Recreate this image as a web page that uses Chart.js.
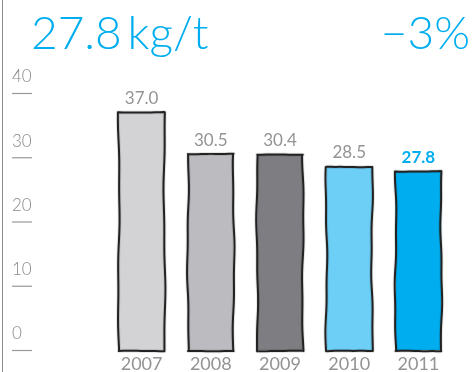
<!DOCTYPE html>
<html>
<head>
<meta charset="utf-8">
<script src="https://cdn.jsdelivr.net/npm/chart.js@4"></script>
<style>
  html, body { margin: 0; padding: 0; background: #fff; }
  #wrap { position: relative; width: 472px; height: 372px; }
  #edge { position: absolute; left: 2px; top: 0; width: 1px; height: 372px; background: #8c8c8c; }
  .big { position: absolute; top: 4px; font-family: Lato, sans-serif; font-weight: 300; font-size: 46px; color: #00aeef; line-height: 56px; }
  #head { left: 31px; }
  #delta { right: 2px; }
</style>
</head>
<body>
<div id="wrap">
  <div id="edge"></div>
  <div class="big" id="head">27.8&thinsp;kg/t</div>
  <div class="big" id="delta">&minus;3%</div>
  <canvas id="chart" width="472" height="372"></canvas>
</div>
<script>
const years = ['2007', '2008', '2009', '2010', '2011'];
const values = [37.0, 30.5, 30.4, 28.5, 27.8];
const yTicks = [0, 10, 20, 30, 40];
const barColors = ['#d3d3d5', '#bcbbc0', '#7e7d82', '#6dcff6', '#00aeef'];

const grey = '#939393';
const blue = '#00aeef';

// hand drawn outline + labels
const sketchPlugin = {
  id: 'sketch',
  afterDatasetsDraw(chart) {
    const ctx = chart.ctx;
    const meta = chart.getDatasetMeta(0);
    const y = chart.scales.y;
    const x = chart.scales.x;

    // y ticks: number above a short line
    ctx.save();
    ctx.font = '300 17px Lato, sans-serif';
    ctx.fillStyle = '#888';
    ctx.textAlign = 'left';
    ctx.textBaseline = 'middle';
    ctx.strokeStyle = '#999';
    ctx.lineWidth = 1.2;
    yTicks.forEach(t => {
      const py = y.getPixelForValue(t);
      ctx.fillText(String(t), 12, py - 16);
      ctx.beginPath();
      ctx.moveTo(12, py + 0.5);
      ctx.lineTo(32, py + 0.5);
      ctx.stroke();
    });
    ctx.restore();

    // x labels
    ctx.save();
    ctx.font = '18px Lato, sans-serif';
    ctx.fillStyle = grey;
    ctx.textAlign = 'center';
    ctx.textBaseline = 'middle';
    years.forEach((yr, i) => ctx.fillText(yr, x.getPixelForValue(i), chart.chartArea.bottom + 14));
    ctx.restore();

    meta.data.forEach((bar, i) => {
      const half = bar.width / 2;
      const l = bar.x - half, r = bar.x + half, t = bar.y, b = bar.base + 1;
      const wob = (k, s) => Math.sin(k * 0.13 + i * 1.7 + s) * 0.7 + Math.sin(k * 0.37 + s * 2) * 0.3;
      ctx.save();
      ctx.lineJoin = 'round';
      [['rgba(0,0,0,0.1)', 4], ['#222', 2]].forEach(([c, w]) => {
        ctx.strokeStyle = c;
        ctx.lineWidth = w;
        ctx.beginPath();
        ctx.moveTo(l, t);
        for (let k = 0; k <= 10; k++) ctx.lineTo(l + (r - l) * k / 10, t + wob(k * 3, 0) * 0.3);
        for (let k = 0; k <= 30; k++) ctx.lineTo(r + wob(k * 2, 2), t + (b - t) * k / 30);
        for (let k = 10; k >= 0; k--) ctx.lineTo(l + (r - l) * k / 10, b + wob(k * 3, 4) * 0.3);
        for (let k = 30; k >= 0; k--) ctx.lineTo(l + wob(k * 2, 5), t + (b - t) * k / 30);
        ctx.closePath();
        ctx.stroke();
      });
      ctx.restore();

      // value label
      ctx.save();
      const last = i === values.length - 1;
      ctx.font = (last ? 'bold ' : '') + '17px Lato, sans-serif';
      ctx.fillStyle = last ? blue : grey;
      ctx.textAlign = 'center';
      ctx.textBaseline = 'middle';
      ctx.fillText(values[i].toFixed(1), bar.x, t - 14);
      ctx.restore();
    });
  }
};

new Chart(document.getElementById('chart'), {
  type: 'bar',
  data: {
    labels: years,
    datasets: [{
      data: values,
      backgroundColor: barColors,
      borderWidth: 0,
      barPercentage: 0.66,
      categoryPercentage: 1.0
    }]
  },
  options: {
    responsive: false,
    animation: false,
    devicePixelRatio: 1,
    layout: { padding: { top: 93, left: 107, right: 19, bottom: 22 } },
    plugins: { legend: { display: false }, tooltip: { enabled: false } },
    scales: {
      x: { display: false },
      y: {
        display: false,
        min: 0,
        max: 40
      }
    }
  },
  plugins: [sketchPlugin]
});
</script>
</body>
</html>
